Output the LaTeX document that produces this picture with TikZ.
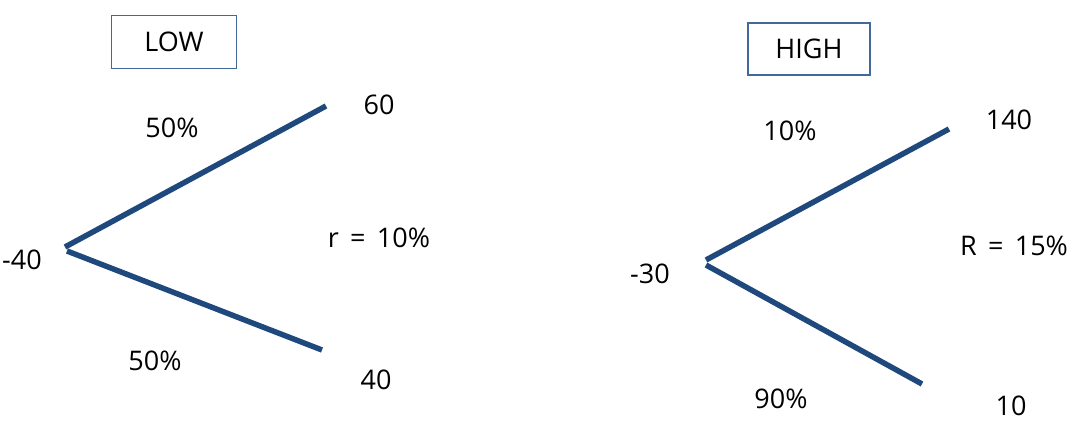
\documentclass[tikz,border=0pt]{standalone}
\usepackage{fontspec}
\setmainfont{Open Sans}
\usepackage{xcolor}
\usepackage{tikz}
\definecolor{branchColor}{HTML}{1F497D}
\definecolor{boxColor}{HTML}{41699C}
\tikzset{
    branch/.style={line width=5.5pt, branchColor},
    lbl/.style={font=\fontsize{27}{30}\selectfont, inner sep=0pt},
    titlebox/.style={draw=boxColor, line width=1.5pt, minimum width=125pt, minimum height=53pt, font=\fontsize{27}{30}\selectfont}
}
\newcommand{\wsp}{\hspace{0.42em}}
\begin{document}
\begin{tikzpicture}[x=1pt, y=-1pt]
    \useasboundingbox (0,0) rectangle (1080,423);
    % low risk tree
    \node[titlebox] (lowbox) at (174,42) {LOW};
    \coordinate (lowroot) at (65,247);
    \coordinate (lowrootb) at (67,251);
    \coordinate (lowup) at (326,106);
    \coordinate (lowdown) at (322,350);
    \draw[branch] (lowroot) -- (lowup);
    \draw[branch] (lowrootb) -- (lowdown);
    \node[lbl] (lowstart) at (22,260) {-40};
    \node[lbl] (lowupval) at (379,105) {60};
    \node[lbl] (lowdownval) at (376,380) {40};
    \node[lbl] (lowupp) at (172,128) {50\%};
    \node[lbl] (lowdownp) at (155,361) {50\%};
    \node[lbl] (lowrate) at (379,238) {r\wsp=\wsp10\%};
    % high risk tree
    \node[titlebox, minimum width=122pt, minimum height=52pt] (highbox) at (809,49) {HIGH};
    \coordinate (highroot) at (706,260);
    \coordinate (highrootb) at (706,265);
    \coordinate (highup) at (949,129);
    \coordinate (highdown) at (922,384);
    \draw[branch] (highroot) -- (highup);
    \draw[branch] (highrootb) -- (highdown);
    \node[lbl] (highstart) at (650,274) {-30};
    \node[lbl] (highupval) at (1009,120) {140};
    \node[lbl] (highdownval) at (1011,406) {10};
    \node[lbl] (highupp) at (790,131) {10\%};
    \node[lbl] (highdownp) at (781,399) {90\%};
    \node[lbl] (highrate) at (1014,246) {R\wsp=\wsp15\%};
\end{tikzpicture}
\end{document}
